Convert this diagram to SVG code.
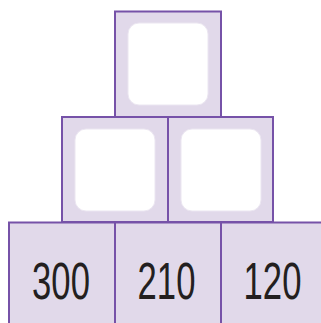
<svg xmlns="http://www.w3.org/2000/svg" width="321" height="323" viewBox="0 0 321 323">
<style>
.box{fill:#e1d9ea;stroke:#7652a8;stroke-width:2}
.hole{fill:#ffffff;stroke:#ebe6f1;stroke-width:1}
.num{font-family:"Liberation Sans",Arial,sans-serif;font-size:51px;fill:#231f20;text-anchor:middle}
</style>
<rect width="321" height="323" fill="#ffffff"/>
<g id="top">
<rect class="box" x="115" y="11.5" width="106" height="105.5"/>
<rect class="hole" x="128" y="23" width="80" height="82" rx="11"/>
</g>
<g id="mid-left">
<rect class="box" x="62" y="117" width="106" height="105"/>
<rect class="hole" x="75" y="129" width="80" height="82" rx="11"/>
</g>
<g id="mid-right">
<rect class="box" x="168" y="117" width="105" height="105"/>
<rect class="hole" x="181" y="129" width="80" height="82" rx="11"/>
</g>
<g id="b1">
<rect class="box" x="9" y="222.5" width="106" height="106"/>
<text class="num" transform="translate(61,299) scale(0.68,1)">300</text>
</g>
<g id="b2">
<rect class="box" x="115" y="222.5" width="106" height="106"/>
<text class="num" transform="translate(166.5,299) scale(0.68,1)">210</text>
</g>
<g id="b3">
<rect class="box" x="221" y="222.5" width="106" height="106"/>
<text class="num" transform="translate(272.5,299) scale(0.68,1)">120</text>
</g>
<g id="connectors"></g>
</svg>
